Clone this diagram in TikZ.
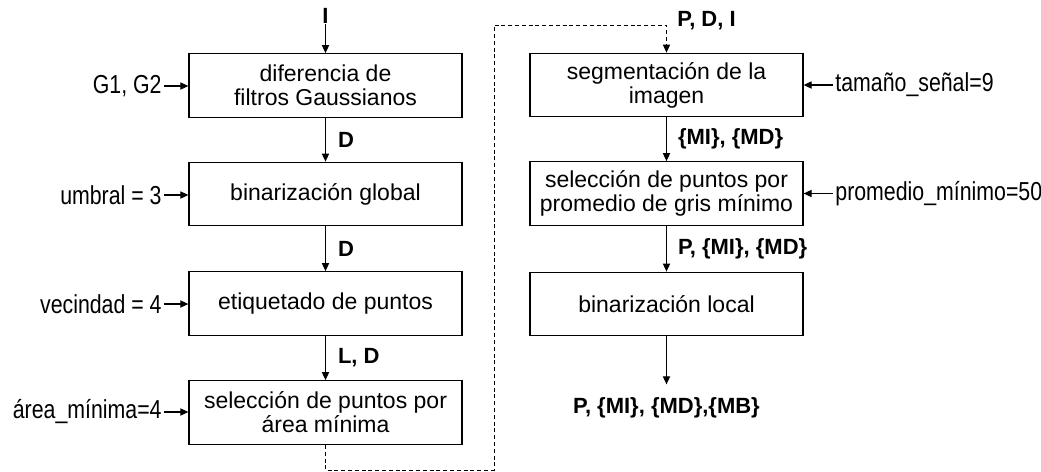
\documentclass[tikz,border=0pt]{standalone}
\usepackage{fontspec}
\setmainfont{Liberation Sans}
\newfontfamily\narrowfont{Liberation Sans}[FakeStretch=0.82]
\usetikzlibrary{arrows.meta}
\begin{document}
\begin{tikzpicture}[x=0.5pt,y=-0.5pt,
  proc/.style={draw,line width=0.65pt,minimum width=136.5pt,minimum height=31.75pt,
    align=center,inner sep=0pt,font=\fontsize{11.5}{12}\selectfont},
  lab/.style={font=\fontsize{11}{13}\selectfont\bfseries,inner sep=0pt},
  param/.style={font=\narrowfont\fontsize{13}{15}\selectfont,inner sep=1pt},
  tip/.style={-{Triangle[length=4pt,width=3.6pt]}},
  flow/.style={line width=0.55pt,tip},
  dashline/.style={line width=0.5pt,dash pattern=on 2pt off 1.4pt,tip}
]
\useasboundingbox (0,0) rectangle (1041,472);
% left column
\node[proc] (a1) at (325.5,85.5) {diferencia de\\filtros Gaussianos};
\node[proc] (a2) at (325.5,194) {binarización global};
\node[proc] (a3) at (325.5,303.5) {etiquetado de puntos};
\node[proc] (a4) at (325.5,412.5) {selección de puntos por\\área mínima};
% right column
\node[proc] (b1) at (666.5,85) {segmentación de la\\imagen};
\node[proc] (b2) at (666.5,193.5) {selección de puntos por\\promedio de gris mínimo};
\node[proc] (b3) at (666.5,304) {binarización local};
% input / output
\node[lab] (in) at (325.5,16) {I};
\node[lab] (out) at (666.5,408) {P, \{MI\}, \{MD\},\{MB\}};
\node[lab,anchor=west] (pdi) at (677,21) {P, D, I};
% parameters
\node[param,anchor=east] (p1) at (164,86) {G1, G2};
\node[param,anchor=east] (p2) at (164,195) {umbral = 3};
\node[param,anchor=east] (p3) at (164,304) {vecindad = 4};
\node[param,anchor=east] (p4) at (164,412) {área\_mínima=4};
\node[param,anchor=west] (q1) at (833,85) {tamaño\_señal=9};
\node[param,anchor=west] (q2) at (833,193.5) {promedio\_mínimo=50};
% flow
\draw[flow] (in.south) -- (a1.north);
\draw[flow] (a1) -- node[lab,right=6pt] {D} (a2);
\draw[flow] (a2) -- node[lab,right=6pt] {D} (a3);
\draw[flow] (a3) -- node[lab,right=6pt] {L, D} (a4);
\draw[flow] (b1) -- node[lab,right=5.5pt] {\{MI\}, \{MD\}} (b2);
\draw[flow] (b2) -- node[lab,right=5.5pt] {P, \{MI\}, \{MD\}} (b3);
\draw[flow,shorten >=6.5pt] (b3) -- (out);
% parameter arrows
\draw[flow] (p1.east) -- (p1.east -| a1.west);
\draw[flow] (p2.east) -- (p2.east -| a2.west);
\draw[flow] (p3.east) -- (p3.east -| a3.west);
\draw[flow] (p4.east) -- (p4.east -| a4.west);
\draw[flow] (q1.west) -- (q1.west -| b1.east);
\draw[flow] (q2.west) -- (q2.west -| b2.east);
% dashed link
\coordinate (c1) at (494,470);
\coordinate (c2) at (494,25);
\draw[dashline] (a4.south) |- (c1) -- (c2) -| (b1.north);
\end{tikzpicture}
\end{document}
